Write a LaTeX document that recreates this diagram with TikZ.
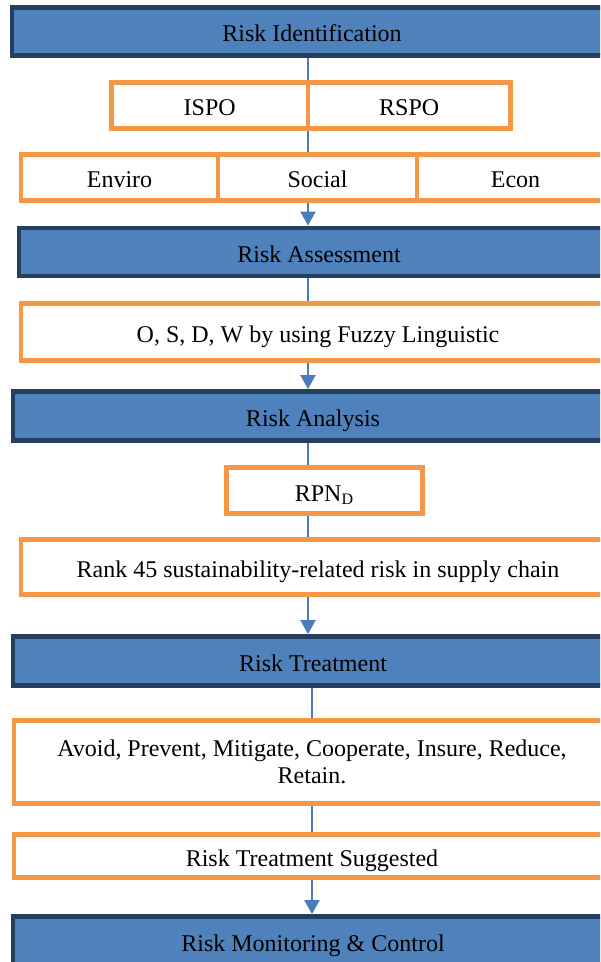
\documentclass[tikz,border=0pt]{standalone}
\usepackage{fontspec}
\setmainfont{Liberation Serif}
\usetikzlibrary{arrows.meta}
\definecolor{phasefill}{HTML}{4F81BD}
\definecolor{phaseline}{HTML}{243F60}
\definecolor{partline}{HTML}{F79646}
\definecolor{linkline}{HTML}{4A7EBB}

\begin{document}
\begin{tikzpicture}[x=0.5pt,y=-0.5pt]
				\tikzstyle{every node}=[rectangle,inner sep=0pt,font=\fontsize{12}{13.6}\selectfont,
				text height=10.5pt,text depth=0pt]
				\tikzstyle{phase}=[draw=phaseline,fill=phasefill,line width=2.4pt,
				minimum width=300pt,minimum height=24pt]
				\tikzstyle{part}=[draw=partline,fill=white,line width=2.4pt,minimum height=23pt]
				\tikzstyle{link}=[draw=linkline,line width=1pt]
				\tikzstyle{flow}=[link,-{Triangle[width=7.5pt,length=7pt]}]
				\clip (0,0) rectangle (600,962);
				\node[phase] (ident) at (312,31.5) {Risk Identification};
				\node[part,minimum width=98.25pt] (isp) at (209.75,105.5) {ISPO};
				\node[part,minimum width=101.25pt] (rsp) at (409.25,105.5) {RSPO};
				\node[part,minimum width=98.5pt] (env) at (119.5,177.5) {Enviro};
				\node[part,minimum width=99.5pt] (soc) at (317.5,177.5) {Social};
				\node[part,minimum width=98.5pt] (eco) at (515.5,177.5) {Econ};
				\node[phase] (assess) at (319,252) {Risk Assessment};
				\node[part,minimum width=297pt,minimum height=28.75pt] (osdw) at (318,332) 
				{O, S, D, W by using Fuzzy Linguistic};
				\node[phase,minimum height=24.5pt] (analysis) at (313,416) {Risk Analysis};
				\node[part,minimum width=98pt] (rpn) at (324.5,490.5) {RPN\textsubscript{D}};
				\node[part,minimum width=297pt,minimum height=27.25pt] (rank) at (318,567) 
				{Rank 45 sustainability-related risk in supply chain};
				\node[phase,minimum height=24.5pt] (treat) at (313,661) {Risk Treatment};
				\node[part,minimum width=298pt,minimum height=41.5pt,text height={},text depth={},
				align=center] (avoid) at (312,762) 
				{Avoid, Prevent, Mitigate, Cooperate, Insure, Reduce,\\ Retain.};
				\node[part,minimum width=298pt,minimum height=21.5pt] (sugg) at (312,856) 
				{Risk Treatment Suggested};
				\node[phase] (monitor) at (313,940.5) {Risk Monitoring \& Control};
				% spines of the connectors
				\coordinate (upper) at (308,0);
				\coordinate (lower) at (312,0);
				\draw[link] (ident.south -| upper) -- (isp.north -| upper);
				\draw[link] (isp.south -| upper) -- (soc.north -| upper);
				\draw[flow] (soc.south -| upper) -- (assess.north -| upper);
				\draw[link] (assess.south -| upper) -- (osdw.north -| upper);
				\draw[flow] (osdw.south -| upper) -- (analysis.north -| upper);
				\draw[link] (analysis.south -| upper) -- (rpn.north -| upper);
				\draw[link] (rpn.south -| upper) -- (rank.north -| upper);
				\draw[flow] (rank.south -| upper) -- (treat.north -| upper);
				\draw[link] (treat.south -| lower) -- (avoid.north -| lower);
				\draw[link] (avoid.south -| lower) -- (sugg.north -| lower);
				\draw[flow] (sugg.south -| lower) -- (monitor.north -| lower);
\end{tikzpicture}
\end{document}
